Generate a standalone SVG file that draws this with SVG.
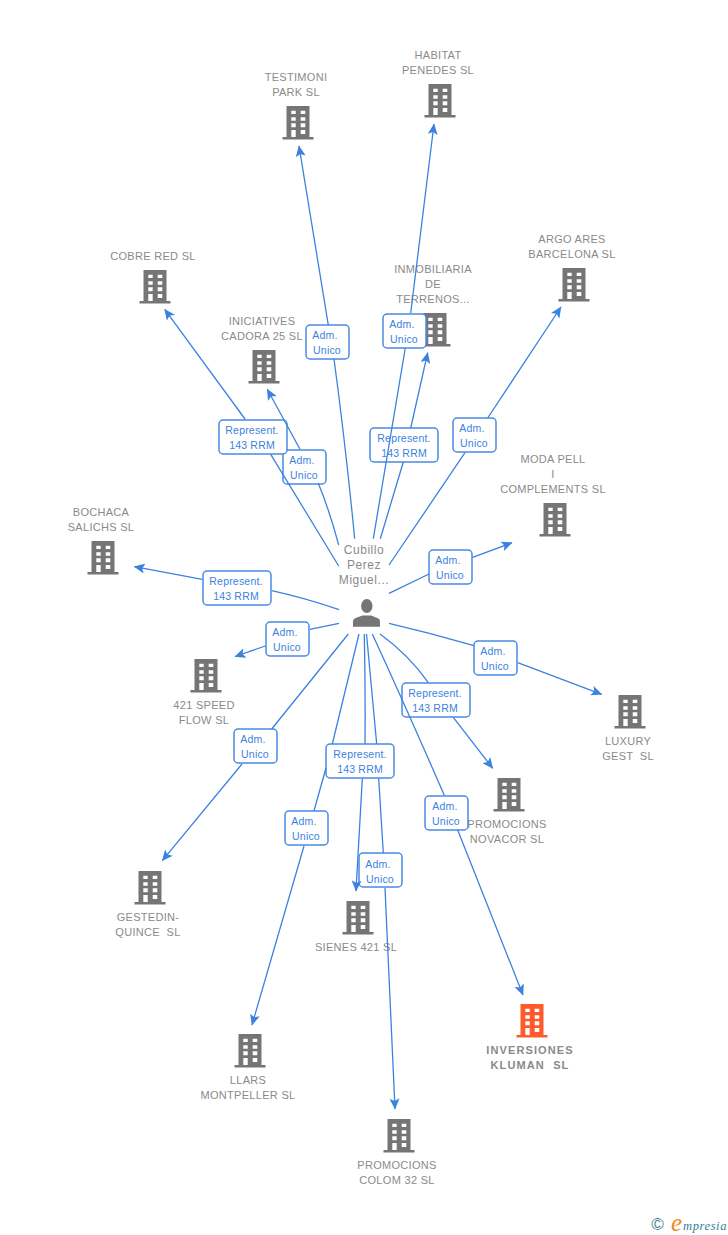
<svg xmlns="http://www.w3.org/2000/svg" width="728" height="1235" viewBox="0 0 728 1235">
<style>
.l{fill:none;stroke:#3b82e0;stroke-width:1.3}
.t{font:11px "Liberation Sans",Arial,sans-serif;fill:#8a8a8a;text-anchor:middle;white-space:pre;letter-spacing:.3px}
.p{font-size:12px;letter-spacing:.55px}
.k{font-weight:700;letter-spacing:1.1px}
.b{fill:#fff;stroke:#4a8be3;stroke-width:1.5}
.e{font:10.500px "Liberation Sans",Arial,sans-serif;fill:#3b82e0;text-anchor:middle;letter-spacing:.2px}
</style>
<defs>
<marker id="a" viewBox="0 0 12 10" refX="10.500" refY="5" markerWidth="12" markerHeight="10" markerUnits="userSpaceOnUse" orient="auto"><path d="M0 0L11 5L0 10L2.500 5Z" fill="#3b82e0"/></marker>
<g id="bld"><path fill-rule="evenodd" d="M-11.500-17H11.500V14H15.500V16.500H-15.500V14H-11.500ZM-6.700-12.300V-9H-2.300V-12.300ZM2.700-12.300V-9H7.300V-12.300ZM-6.700-5.700V-2.300H-2.300V-5.700ZM2.700-5.700V-2.300H7.300V-5.700ZM-6.700.3V4.300H-2.300V.3ZM2.700.3V4.300H7.300V.3ZM-6.700 7V14H-2.300V7ZM2.700 7V11H7.300V7Z"/></g>
</defs>
<g id="n-testimoni"><use href="#bld" x="298" y="123" fill="#757575"/><text class="t" x="296" y="81">TESTIMONI</text><text class="t" x="296" y="96">PARK SL</text></g>
<g id="n-habitat"><use href="#bld" x="440" y="101" fill="#757575"/><text class="t" x="438" y="59">HABITAT</text><text class="t" x="438" y="74">PENEDES SL</text></g>
<g id="n-cobre"><use href="#bld" x="155" y="287" fill="#757575"/><text class="t" x="153" y="260">COBRE RED SL</text></g>
<g id="n-iniciatives"><use href="#bld" x="264" y="367" fill="#757575"/><text class="t" x="262" y="325">INICIATIVES</text><text class="t" x="262" y="340">CADORA 25 SL</text></g>
<g id="n-inmobiliaria"><use href="#bld" x="435" y="330" fill="#757575"/><text class="t" x="433" y="273">INMOBILIARIA</text><text class="t" x="433" y="288">DE</text><text class="t" x="433" y="303">TERRENOS...</text></g>
<g id="n-argo"><use href="#bld" x="574" y="285" fill="#757575"/><text class="t" x="572" y="243">ARGO ARES</text><text class="t" x="572" y="258">BARCELONA SL</text></g>
<g id="n-moda"><use href="#bld" x="555" y="520" fill="#757575"/><text class="t" x="553" y="463">MODA PELL</text><text class="t" x="553" y="478">I</text><text class="t" x="553" y="493">COMPLEMENTS SL</text></g>
<g id="n-bochaca"><use href="#bld" x="103" y="558" fill="#757575"/><text class="t" x="101" y="516">BOCHACA</text><text class="t" x="101" y="531">SALICHS SL</text></g>
<g id="n-421"><use href="#bld" x="206" y="676" fill="#757575"/><text class="t" x="204" y="709">421 SPEED</text><text class="t" x="204" y="724">FLOW SL</text></g>
<g id="n-luxury"><use href="#bld" x="630" y="712" fill="#757575"/><text class="t" x="628" y="745">LUXURY</text><text class="t" x="628" y="760">GEST  SL</text></g>
<g id="n-novacor"><use href="#bld" x="509" y="795" fill="#757575"/><text class="t" x="507" y="828">PROMOCIONS</text><text class="t" x="507" y="843">NOVACOR SL</text></g>
<g id="n-gestedin"><use href="#bld" x="150" y="888" fill="#757575"/><text class="t" x="148" y="921">GESTEDIN-</text><text class="t" x="148" y="936">QUINCE  SL</text></g>
<g id="n-sienes"><use href="#bld" x="358" y="918" fill="#757575"/><text class="t" x="356" y="951">SIENES 421 SL</text></g>
<g id="n-kluman"><use href="#bld" x="532" y="1021" fill="#ff5a2b"/><text class="t k" x="530" y="1054">INVERSIONES</text><text class="t k" x="530" y="1069">KLUMAN  SL</text></g>
<g id="n-llars"><use href="#bld" x="250" y="1051" fill="#757575"/><text class="t" x="248" y="1084">LLARS</text><text class="t" x="248" y="1099">MONTPELLER SL</text></g>
<g id="n-colom"><use href="#bld" x="399" y="1136" fill="#757575"/><text class="t" x="397" y="1169">PROMOCIONS</text><text class="t" x="397" y="1184">COLOM 32 SL</text></g>
<g id="n-person"><ellipse cx="366.800" cy="606" rx="5.700" ry="7" fill="#757575"/><path fill="#757575" d="M353 626.700V621.500Q353 618.500 357 617.500L362.500 615.500H371L376 617.500Q380 618.500 380 621.500V626.700Z"/><text class="t p" x="364" y="554">Cubillo</text><text class="t p" x="364" y="569">Perez</text><text class="t p" x="364" y="584">Miguel...</text></g>
<g id="edge-labels">
<g><rect class="b" x="306" y="325" width="43" height="34" rx="4"/><text class="e" x="325" y="339">Adm.</text><text class="e" x="327" y="354">Unico</text></g>
<g><rect class="b" x="383" y="314" width="43" height="34" rx="4"/><text class="e" x="402" y="328">Adm.</text><text class="e" x="404" y="343">Unico</text></g>
<g><rect class="b" x="453" y="418" width="43" height="34" rx="4"/><text class="e" x="472" y="432">Adm.</text><text class="e" x="474" y="447">Unico</text></g>
<g><rect class="b" x="283" y="450" width="43" height="34" rx="4"/><text class="e" x="302" y="464">Adm.</text><text class="e" x="304" y="479">Unico</text></g>
<g><rect class="b" x="429" y="550" width="43" height="34" rx="4"/><text class="e" x="448" y="564">Adm.</text><text class="e" x="450" y="579">Unico</text></g>
<g><rect class="b" x="266" y="622" width="43" height="34" rx="4"/><text class="e" x="285" y="636">Adm.</text><text class="e" x="287" y="651">Unico</text></g>
<g><rect class="b" x="474" y="641" width="43" height="34" rx="4"/><text class="e" x="493" y="655">Adm.</text><text class="e" x="495" y="670">Unico</text></g>
<g><rect class="b" x="234" y="729" width="43" height="34" rx="4"/><text class="e" x="253" y="743">Adm.</text><text class="e" x="255" y="758">Unico</text></g>
<g><rect class="b" x="425" y="796" width="43" height="34" rx="4"/><text class="e" x="445" y="810">Adm.</text><text class="e" x="446" y="825">Unico</text></g>
<g><rect class="b" x="285" y="811" width="43" height="34" rx="4"/><text class="e" x="304" y="825">Adm.</text><text class="e" x="306" y="840">Unico</text></g>
<g><rect class="b" x="359" y="853" width="43" height="34" rx="4"/><text class="e" x="378" y="868">Adm.</text><text class="e" x="380" y="883">Unico</text></g>
<g><rect class="b" x="219" y="420" width="68" height="34" rx="4"/><text class="e" x="252" y="434">Represent.</text><text class="e" x="252" y="449">143 RRM</text></g>
<g><rect class="b" x="370" y="428" width="68" height="34" rx="4"/><text class="e" x="404" y="442">Represent.</text><text class="e" x="404" y="457">143 RRM</text></g>
<g><rect class="b" x="203" y="571" width="68" height="34" rx="4"/><text class="e" x="236" y="585">Represent.</text><text class="e" x="236" y="600">143 RRM</text></g>
<g><rect class="b" x="402" y="683" width="68" height="34" rx="4"/><text class="e" x="435" y="697">Represent.</text><text class="e" x="435" y="712">143 RRM</text></g>
<g><rect class="b" x="326" y="744" width="68" height="34" rx="4"/><text class="e" x="360" y="758">Represent.</text><text class="e" x="360" y="773">143 RRM</text></g>
</g>
<g id="connectors">
<path class="l" marker-end="url(#a)" d="M354.700 538.700Q345 440 334 359M328.300 325L299 146"/>
<path class="l" marker-end="url(#a)" d="M373.300 538.700L405.300 348M410.700 313L434 124"/>
<path class="l" marker-end="url(#a)" d="M380.300 538.700L403.300 462M410.700 428L427.700 352.700"/>
<path class="l" marker-end="url(#a)" d="M389 565L465 452.700M487.700 418L561 307"/>
<path class="l" marker-end="url(#a)" d="M338.700 566L270.700 454.300M245 419L164.700 309.300"/>
<path class="l" marker-end="url(#a)" d="M338.700 545Q330 512 318.300 483.300M300 449.300L267.300 389.300"/>
<path class="l" marker-end="url(#a)" d="M339 609.700Q305 598 271.700 590.700M202.300 579.300L134.300 566.700"/>
<path class="l" marker-end="url(#a)" d="M339 623.300L310 629.300M265.300 646L235 656.500"/>
<path class="l" marker-end="url(#a)" d="M348.300 634L271.700 729M242 764L162.300 860.700"/>
<path class="l" marker-end="url(#a)" d="M359 634L332.300 744M326 768L314 810.700M304 846L252 1025"/>
<path class="l" marker-end="url(#a)" d="M364.300 634Q365.500 690 365 744M362.300 778.700L356 891"/>
<path class="l" marker-end="url(#a)" d="M366.500 634L376.700 744M378.700 778.700L383.300 853M385 888L395 1109"/>
<path class="l" marker-end="url(#a)" d="M372.300 634Q405 705 444.300 795.300M457.700 830L523 995"/>
<path class="l" marker-end="url(#a)" d="M380 634Q409 655 428.300 682.700M453.300 717.300L492.700 768.300"/>
<path class="l" marker-end="url(#a)" d="M389 623.300Q431 633 474 645.700M517.700 662.700L601.700 694.300"/>
<path class="l" marker-end="url(#a)" d="M389 593.300L429 574M472.700 557.300L512 542.700"/>
</g>
<g id="logo"><text x="657.500" y="1230" text-anchor="middle" style="font:17px 'Liberation Sans',sans-serif;fill:#3f7f8f">©</text><text x="671" y="1231" style="font:italic 25px 'Liberation Serif',serif;fill:#f08a1d">e</text><text x="683" y="1229.500" style="font:italic 12.500px 'Liberation Serif',serif;fill:#2f7f95;letter-spacing:.6px">mpresia</text></g>
</svg>
